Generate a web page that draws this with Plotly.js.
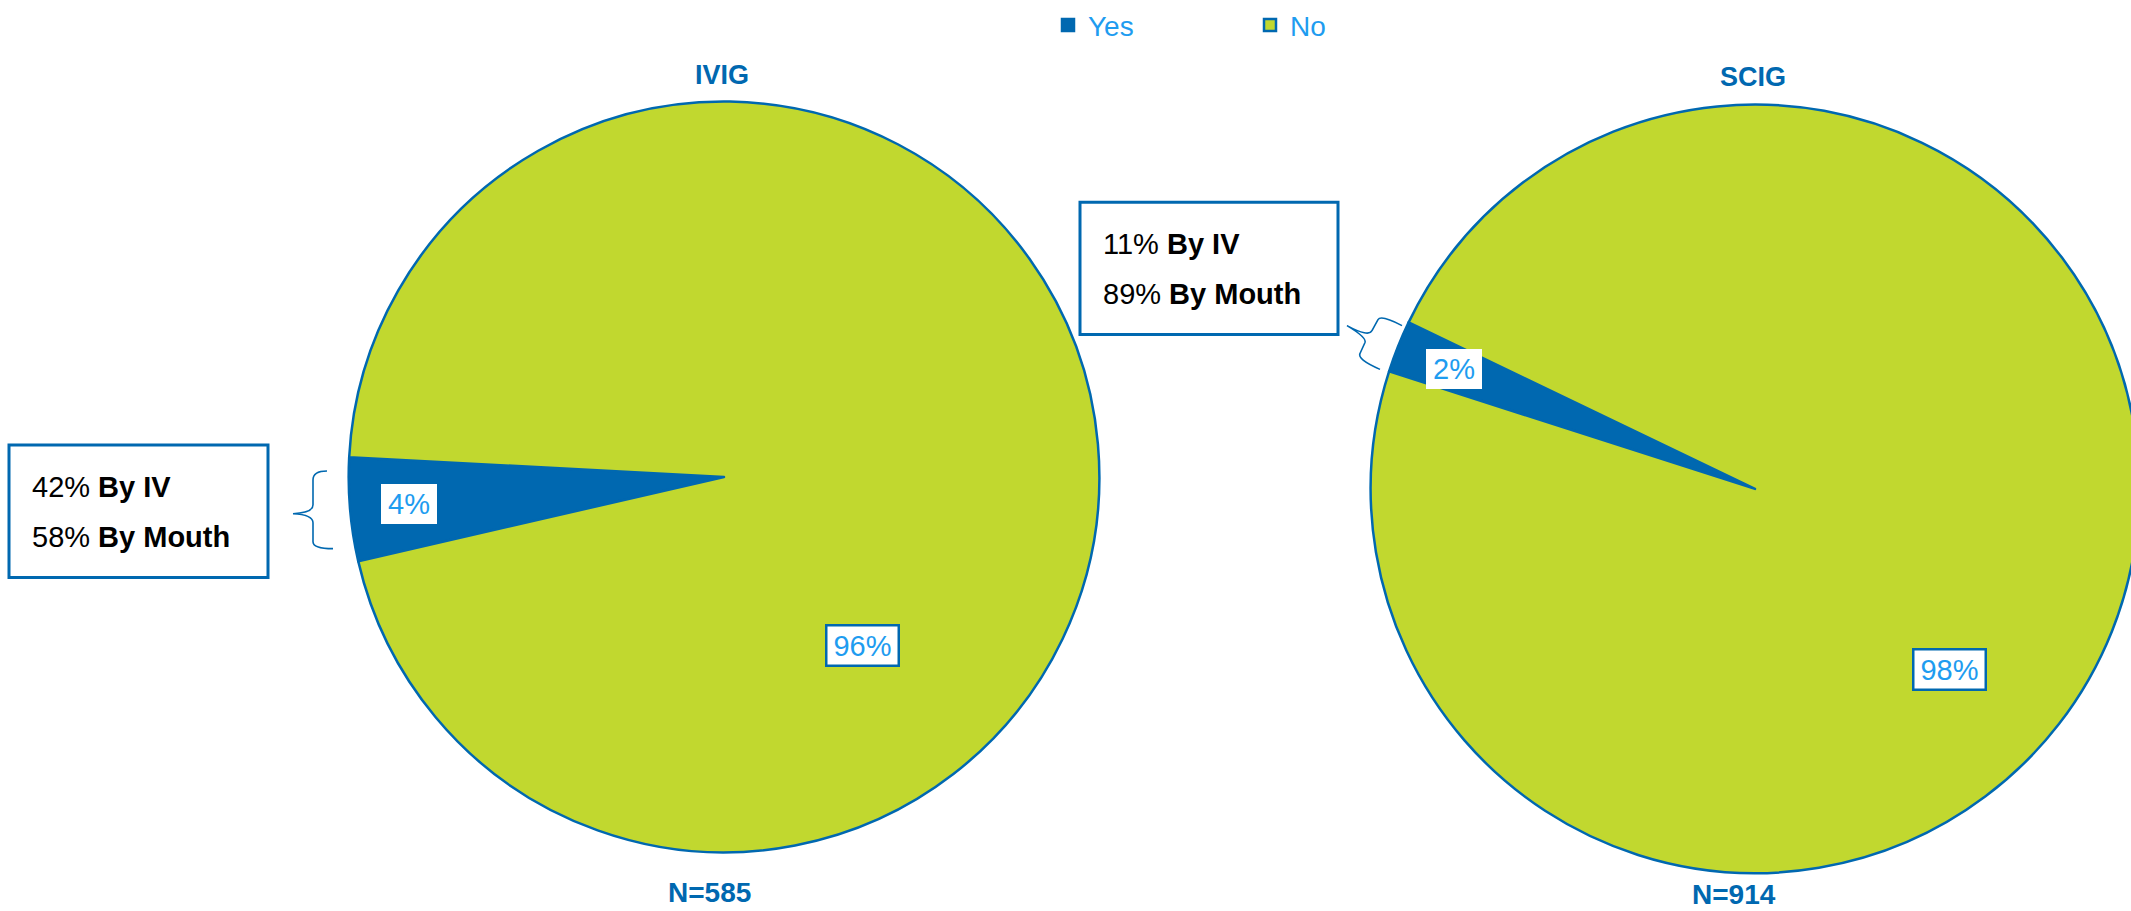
<!DOCTYPE html>
<html>
<head>
<meta charset="utf-8">
<script src="https://cdn.plot.ly/plotly-3.0.1.min.js"></script>
<style>
html, body { margin:0; padding:0; background:#fff; overflow:hidden; width:2131px; height:911px; }
#chart { width:2150px; height:911px; }
</style>
</head>
<body>
<div id="chart"></div>
<script>
// ---- data ----
const labels = ['Yes', 'No'];
const pieTitles = ['IVIG', 'SCIG'];
const ivigCounts = [26, 559];
const scigCounts = [20, 894];
const nValues = [585, 914];
const routeLabels = ['By IV', 'By Mouth'];
const ivigRoute = [42, 58];
const scigRoute = [11, 89];

// ---- style / geometry ----
const W = 2150, H = 911;
const DARK = '#0068B0', LIME = '#C1D82F', LIGHT = '#1E9CF0';
const FONT = 'Liberation Sans, Arial, sans-serif';
const pies = [
  {cx: 724, cy: 475, r: 377, rot: 257, counts: ivigCounts, route: ivigRoute,
   noLbl: {ang: 140.6, f: 0.58}, box: {x0: 9, y0: 443, x1: 268, y1: 576},
   titleY: 71, nY: 892,
   brace: 'M327,469 Q313,469 313,478 L313,503 Q313,511 293,512 Q313,513 313,521 L313,540 Q313,547 333,547'},
  {cx: 1755, cy: 487, r: 386, rot: 287.8, counts: scigCounts, route: scigRoute,
   noLbl: {ang: 133, f: 0.69}, box: {x0: 1080, y0: 199, x1: 1338, y1: 332},
   titleY: 73, nY: 894,
   brace: 'M1402,323 Q1381,312 1378,317 L1372,328 Q1369,335 1347,323 Q1367,335 1365,340 L1360,351 Q1357,357 1380,367'}
];
const px = x => x / W;
const py = y => 1 - y / H;
function pathToPaper(p) {
  return p.replace(/(-?\d+(?:\.\d+)?),(-?\d+(?:\.\d+)?)/g,
    (m, a, b) => px(+a).toFixed(5) + ',' + py(+b).toFixed(5));
}

const traces = [];
const annotations = [];
const shapes = [];

pies.forEach((p, i) => {
  traces.push({
    type: 'pie', labels: labels, values: p.counts, sort: false,
    direction: 'clockwise', rotation: p.rot, textinfo: 'none', hoverinfo: 'none',
    marker: {colors: [DARK, LIME], line: {color: DARK, width: 2.5}},
    domain: {x: [px(p.cx - p.r), px(p.cx + p.r)], y: [py(p.cy + p.r), py(p.cy - p.r)]},
    showlegend: true, name: pieTitles[i]
  });
  const total = p.counts.reduce((a, b) => a + b, 0);
  const pcts = p.counts.map(v => Math.round(100 * v / total) + '%');
  // Yes label: along slice mid-angle
  const mid = (p.rot + 360 * p.counts[0] / total / 2) * Math.PI / 180;
  const fy = 0.84;
  const yx = p.cx + fy * p.r * Math.sin(mid), yy = p.cy - fy * p.r * Math.cos(mid);
  annotations.push({xref: 'paper', yref: 'paper', x: px(yx), y: py(yy), xanchor: 'center', yanchor: 'middle',
    text: pcts[0], showarrow: false, bgcolor: '#fff', borderwidth: 0, borderpad: 0,
    width: 56, height: 40, font: {family: FONT, size: 29, color: LIGHT}});
  const na = p.noLbl.ang * Math.PI / 180;
  const nx = p.cx + p.noLbl.f * p.r * Math.sin(na), ny = p.cy - p.noLbl.f * p.r * Math.cos(na);
  annotations.push({xref: 'paper', yref: 'paper', x: px(nx), y: py(ny), xanchor: 'center', yanchor: 'middle',
    text: pcts[1], showarrow: false, bgcolor: '#fff', bordercolor: DARK, borderwidth: 2.5, borderpad: 0,
    width: 70, height: 38, font: {family: FONT, size: 29, color: LIGHT}});
  // title and N
  annotations.push({xref: 'paper', yref: 'paper', x: px(p.cx - 2), y: py(p.titleY), xanchor: 'center', yanchor: 'middle',
    text: '<b>' + pieTitles[i] + '</b>', showarrow: false, font: {family: FONT, size: 27, color: DARK}});
  annotations.push({xref: 'paper', yref: 'paper', x: px(p.cx - 15 - (i ? 6 : 0)), y: py(p.nY), xanchor: 'center', yanchor: 'middle',
    text: '<b>N=' + nValues[i] + '</b>', showarrow: false, font: {family: FONT, size: 28, color: DARK}});
  // callout box
  const b = p.box;
  shapes.push({type: 'rect', xref: 'paper', yref: 'paper', x0: px(b.x0), x1: px(b.x1), y0: py(b.y0), y1: py(b.y1),
    fillcolor: '#fff', line: {color: DARK, width: 3}, layer: 'above'});
  const lineYs = [b.y0 + 42, b.y0 + 92];
  routeLabels.forEach((rl, k) => {
    annotations.push({xref: 'paper', yref: 'paper', x: px(b.x0 + 21), y: py(lineYs[k]), xanchor: 'left', yanchor: 'middle',
      text: p.route[k] + '% <b>' + rl + '</b>', showarrow: false, font: {family: FONT, size: 29, color: '#000'}});
  });
  shapes.push({type: 'path', xref: 'paper', yref: 'paper', path: pathToPaper(p.brace),
    line: {color: DARK, width: 1.6}, layer: 'above'});
});

const layout = {
  width: W, height: H, margin: {l: 0, r: 0, t: 0, b: 0},
  paper_bgcolor: '#fff', plot_bgcolor: '#fff',
  font: {family: FONT},
  showlegend: true,
  legend: {orientation: 'h', x: px(1048), y: 1.004, xanchor: 'left', yanchor: 'top',
    entrywidth: 157, traceorder: 'normal',
    font: {family: FONT, size: 28, color: LIGHT}},
  annotations: annotations, shapes: shapes
};
Plotly.newPlot('chart', traces, layout, {displayModeBar: false, staticPlot: true});
</script>
</body>
</html>
